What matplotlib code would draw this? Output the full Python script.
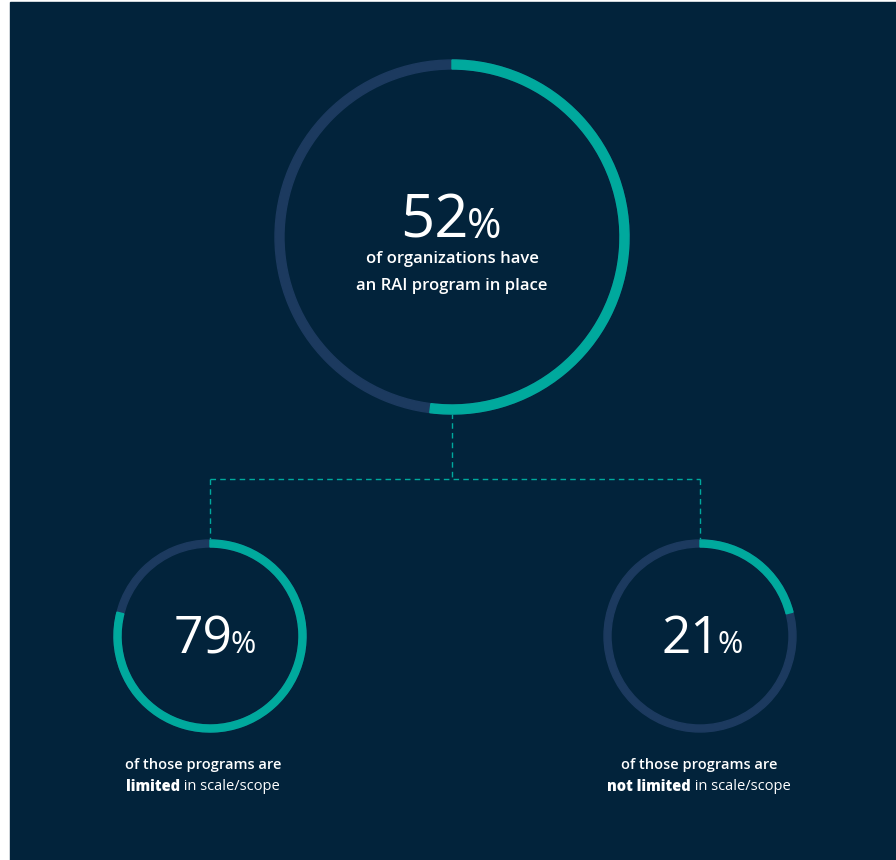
import matplotlib
matplotlib.use("Agg")
import matplotlib.pyplot as plt
from matplotlib.patches import Wedge, Rectangle

# values (share of teal in each ring, %)
values = [52, 79, 21]
big_lines = ["of organizations have", "an RAI program in place"]
left_lines = ["of those programs are", "limited", " in scale/scope"]
right_lines = ["of those programs are", "not limited", " in scale/scope"]

BG = "#02233b"
TRACK = "#1c3a5f"
TEAL = "#00a99d"
W, H = 896, 860

plt.rcParams['font.family'] = ['Open Sans', 'DejaVu Sans']

fig = plt.figure(figsize=(W / 100, H / 100), dpi=100)
fig.patch.set_facecolor("white")
ax = fig.add_axes([0, 0, 1, 1])
ax.set_xlim(0, W)
ax.set_ylim(0, H)
ax.set_aspect("equal")
ax.axis("off")

ax.add_patch(Rectangle((10, 0), W - 10, H - 2, color=BG, zorder=0))


def ring(cx, cy, r, lw, pct):
    cy = H - cy
    ax.add_patch(Wedge((cx, cy), r, 0, 360, width=lw, color=TRACK, zorder=2))
    ax.add_patch(Wedge((cx, cy), r, 90 - 3.6 * pct, 90, width=lw, color=TEAL, zorder=3))


def pct_label(cx, cy, val, fs_num, fs_pct):
    t = ax.text(cx, H - cy, str(val), color="white", fontsize=fs_num, fontweight="normal",
                ha="right", va="baseline", zorder=4)
    p = ax.text(cx, H - cy, "%", color="white", fontsize=fs_pct, fontweight="normal",
                ha="left", va="baseline", zorder=4)
    return t, p


ring(452, 237, 177, 9, values[0])
ring(210, 636, 96, 7, values[1])
ring(700, 636, 96, 7, values[2])

# dashed connectors
dash = dict(color=TEAL, lw=1, ls=(0, (4, 3)), zorder=1)
ax.plot([452, 452], [H - 413, H - 479], **dash)
ax.plot([210, 700], [H - 479, H - 479], **dash)
ax.plot([210, 210], [H - 479, H - 541], **dash)
ax.plot([700, 700], [H - 479, H - 541], **dash)

labels = [pct_label(452, 238, values[0], 43, 30),
          pct_label(210, 653, values[1], 37, 22),
          pct_label(700, 653, values[2], 37, 22)]

ax.text(452, H - 259, big_lines[0], color="white", fontsize=12, fontweight="semibold",
        ha="center", va="center")
ax.text(452, H - 286, big_lines[1], color="white", fontsize=12, fontweight="semibold",
        ha="center", va="center")

mixed = []
for cx, lines in [(203, left_lines), (699, right_lines)]:
    ax.text(cx, H - 765, lines[0], color="white", fontsize=10.5, fontweight="semibold",
            ha="center", va="center")
    b = ax.text(cx, H - 787, lines[1], color="white", fontsize=10.5, fontweight="heavy",
                ha="left", va="center")
    n = ax.text(cx, H - 787, lines[2], color="white", fontsize=10.5, fontweight="normal",
                ha="left", va="center")
    mixed.append((cx, b, n))

# centre composite labels using measured widths
fig.canvas.draw()
r = fig.canvas.get_renderer()
inv = ax.transData.inverted()


def width(t):
    bb = t.get_window_extent(r)
    (x0, _), (x1, _) = inv.transform([(bb.x0, 0), (bb.x1, 0)])
    return x1 - x0


for cx, (t, p) in zip([452, 216, 703], labels):
    wt, wp = width(t), width(p)
    x0 = cx - (wt + wp) / 2
    t.set_x(x0 + wt)
    p.set_x(x0 + wt - 2)

for cx, b, n in mixed:
    wb, wn = width(b), width(n)
    x0 = cx - (wb + wn) / 2
    b.set_x(x0)
    n.set_x(x0 + wb)

fig.savefig("out.png", dpi=100, facecolor="white")
